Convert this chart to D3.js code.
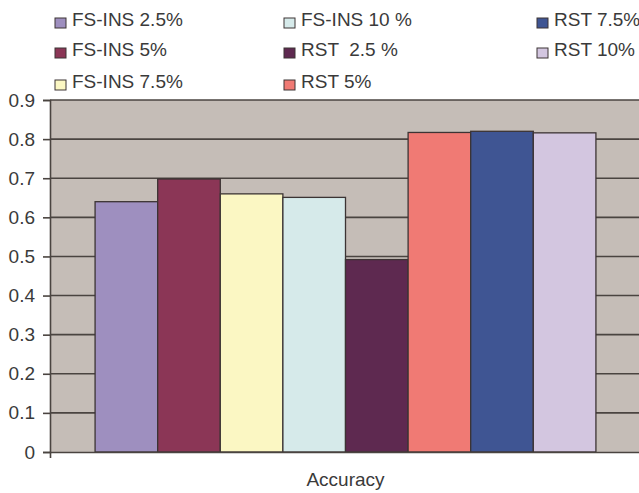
<!DOCTYPE html>
<html>
<head>
<meta charset="utf-8">
<script src="https://cdn.jsdelivr.net/npm/d3@7"></script>
<style>
  html, body { margin: 0; padding: 0; background: #ffffff; }
  svg { display: block; font-family: "Liberation Sans", Arial, sans-serif; }
</style>
</head>
<body>
<svg id="chart" width="639" height="493"></svg>
<script>
// Series shown in the single "Accuracy" group
const seriesNames = ["FS-INS 2.5%", "FS-INS 5%", "FS-INS 7.5%", "FS-INS 10 %",
                     "RST  2.5 %", "RST 5%", "RST 7.5%", "RST 10%"];
const accuracy = [0.640, 0.698, 0.660, 0.651, 0.492, 0.817, 0.820, 0.816];
const seriesColors = ["#9e8fbf", "#8b3656", "#fbf7c3", "#d6eaea",
                      "#5e2950", "#f07a74", "#3f5593", "#d3c6e0"];
const categories = ["Accuracy"];
const yTicks = [0, 0.1, 0.2, 0.3, 0.4, 0.5, 0.6, 0.7, 0.8, 0.9];

const svg = d3.select("#chart");
const margin = { left: 50, right: -2, top: 100, bottom: 41 };
const W = 639, H = 493;
const plotW = W - margin.left - margin.right;
const plotH = H - margin.top - margin.bottom;
const textColor = "#3a3a3a";

const y = d3.scaleLinear().domain([0, 0.9]).range([margin.top + plotH, margin.top]);
const x0 = d3.scaleBand().domain(categories)
  .range([margin.left, margin.left + plotW]).paddingInner(0).paddingOuter(0.09);
const x1 = d3.scaleBand().domain(seriesNames).range([0, x0.bandwidth()]).padding(0);

// plot background
svg.append("rect")
  .attr("x", margin.left).attr("y", margin.top)
  .attr("width", plotW).attr("height", plotH)
  .attr("fill", "#c5bdb7");

// horizontal gridlines
svg.append("g").selectAll("line").data(yTicks.filter(d => d > 0)).join("line")
  .attr("x1", margin.left).attr("x2", margin.left + plotW)
  .attr("y1", d => y(d)).attr("y2", d => y(d))
  .attr("stroke", "#4a4440").attr("stroke-width", 1.6);

// bars
const group = svg.append("g").selectAll("g").data(categories).join("g")
  .attr("transform", c => `translate(${x0(c)},0)`);
group.selectAll("rect").data(seriesNames.map((n, i) => ({ n, v: accuracy[i], c: seriesColors[i] })))
  .join("rect")
  .attr("x", d => x1(d.n)).attr("width", x1.bandwidth())
  .attr("y", d => y(d.v)).attr("height", d => y(0) - y(d.v))
  .attr("fill", d => d.c)
  .attr("stroke", "#3c3434").attr("stroke-width", 1.3);

// y axis
const yAxis = d3.axisLeft(y).tickValues(yTicks).tickSize(7).tickPadding(8)
  .tickFormat(d => d === 0 ? "0" : d3.format(".1f")(d));
const gy = svg.append("g").attr("transform", `translate(${margin.left},0)`).call(yAxis);
gy.select(".domain").attr("stroke", "#4a4440").attr("stroke-width", 1.6);
gy.selectAll(".tick line").attr("stroke", "#4a4440").attr("stroke-width", 1.6);
gy.selectAll(".tick text").attr("font-size", 19).attr("fill", textColor)
  .attr("font-family", "Liberation Sans, Arial, sans-serif");

// x axis
const xAxis = d3.axisBottom(x0).tickValues([]).tickSizeOuter(6);
const gx = svg.append("g").attr("transform", `translate(0,${y(0)})`).call(xAxis);
gx.select(".domain").attr("stroke", "#4a4440").attr("stroke-width", 1.6).attr("fill", "none");

svg.append("text")
  .attr("x", x0("Accuracy") + x0.bandwidth() / 2).attr("y", 486)
  .attr("text-anchor", "middle").attr("font-size", 19).attr("fill", textColor)
  .text("Accuracy");

// legend: three columns, filled column by column
const colX = [55, 284, 537];
const rowY = [19, 49, 81];
const legend = svg.append("g").selectAll("g")
  .data(seriesNames.map((n, i) => ({ n, c: seriesColors[i], col: Math.floor(i / 3), row: i % 3 })))
  .join("g")
  .attr("transform", d => `translate(${colX[d.col]},${rowY[d.row]})`);
legend.append("rect")
  .attr("x", 0).attr("y", -1).attr("width", 11).attr("height", 10)
  .attr("fill", d => d.c).attr("stroke", "#3c3434").attr("stroke-width", 1);
legend.append("text")
  .attr("x", 17).attr("y", 0).attr("dy", "0.35em")
  .attr("font-size", 19).attr("fill", textColor)
  .style("white-space", "pre")
  .text(d => d.n);
</script>
</body>
</html>
